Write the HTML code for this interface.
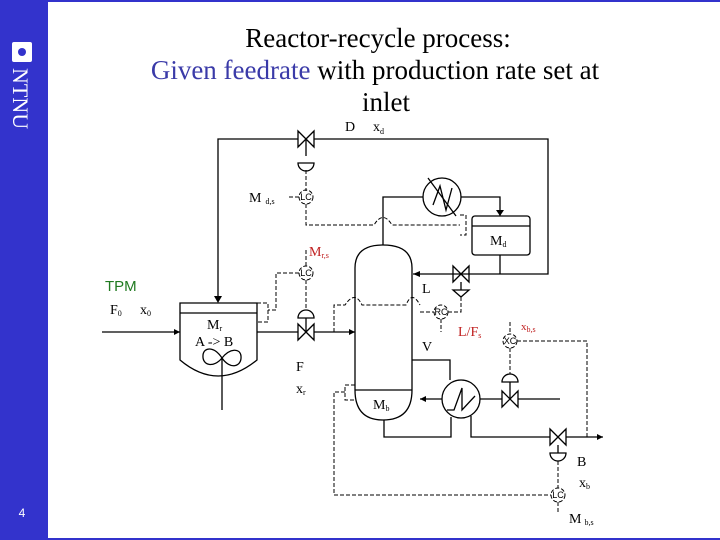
<!DOCTYPE html>
<html><head><meta charset="utf-8"><style>
html,body{margin:0;padding:0;background:#fff}
body{width:720px;height:540px;position:relative;overflow:hidden}
svg{position:absolute;left:0;top:0}
</style></head><body>
<svg width="720" height="540" viewBox="0 0 720 540" xmlns="http://www.w3.org/2000/svg" font-family="Liberation Serif, serif">
<rect x="0" y="0" width="720" height="540" fill="#fff"/>
<rect x="0" y="0" width="48" height="540" fill="#3333cc"/>
<rect x="0" y="0" width="720" height="2" fill="#3333cc"/>
<rect x="0" y="538" width="720" height="2" fill="#3333cc"/>
<rect x="12" y="42" width="20" height="20" rx="2" fill="#fff"/>
<circle cx="22" cy="52" r="4" fill="#3333cc"/>
<text transform="translate(13,68) rotate(90)" font-size="22" fill="#fff" font-family="Liberation Serif, serif">NTNU</text>
<text x="22" y="517" font-size="12" fill="#fff" text-anchor="middle" font-family="Liberation Sans, sans-serif">4</text>

<g font-size="27" text-anchor="middle">
<text x="378" y="47">Reactor-recycle process:</text>
<text x="375" y="79"><tspan fill="#3a3aa8">Given feedrate</tspan>  with production rate set at</text>
<text x="386" y="111">inlet</text>
</g>

<g stroke="#000" stroke-width="1.3" fill="none">
<polyline points="218,298 218,139 298,139"/>
<polyline points="314,139 548,139 548,274 413,274"/>
<path d="M298,131 L314,147 L314,131 L298,147 Z"/>
<line x1="306" y1="139" x2="306" y2="156"/>
<path d="M298,163 A8,8 0 0 0 314,163 Z"/>
<path d="M180,303 H257 V360 Q218,392 180,360 Z"/>
<line x1="180" y1="313" x2="257" y2="313"/>
<path d="M222,358 C214,346 204,347 203,355 C202,366 214,368 222,358 C230,348 240,348 241,356 C242,367 230,370 222,358 Z"/>
<line x1="222" y1="358" x2="222" y2="410"/>
<line x1="102" y1="332" x2="180" y2="332"/>
<line x1="257" y1="332" x2="298" y2="332"/>
<path d="M298,324 L314,340 L314,324 L298,340 Z"/>
<line x1="314" y1="332" x2="355" y2="332"/>
<line x1="306" y1="318" x2="306" y2="332"/>
<path d="M298,318 A8,8 0 0 1 314,318 Z"/>
<path d="M355,390 V268 Q355,245 383,245 Q412,245 412,268 V390 Q412,420 383,420 Q355,420 355,390 Z"/>
<line x1="355" y1="390" x2="412" y2="390"/>
<polyline points="383,245 383,197 423,197"/>
<circle cx="442" cy="197" r="19"/>
<path d="M433,205 L440,186 L446,210 L452,188"/>
<line x1="428" y1="178" x2="456" y2="216"/>
<polyline points="461,197 500,197 500,216"/>
<rect x="472" y="216" width="58" height="39" rx="3"/>
<line x1="472" y1="226" x2="530" y2="226"/>
<line x1="500" y1="255" x2="500" y2="274"/>
<path d="M453,266 L469,282 L469,266 L453,282 Z"/>
<path d="M453,290 H469 L461,297 Z"/>
<line x1="461" y1="282" x2="461" y2="290"/>
<polyline points="412,360 450,360 450,380"/>
<circle cx="461" cy="399" r="19"/>
<path d="M447,410 L454,410 L462,388 L462,410 L475,396"/>
<line x1="420" y1="399" x2="442" y2="399"/>
<line x1="480" y1="399" x2="502" y2="399"/>
<path d="M502,391 L518,407 L518,391 L502,407 Z"/>
<line x1="518" y1="399" x2="560" y2="399"/>
<line x1="510" y1="382" x2="510" y2="399"/>
<path d="M502,382 A8,8 0 0 1 518,382 Z"/>
<polyline points="384,420 384,437 451,437 451,417"/>
<polyline points="471,416 471,437 550,437"/>
<path d="M550,429 L566,445 L566,429 L550,445 Z"/>
<line x1="566" y1="437" x2="603" y2="437"/>
<line x1="558" y1="445" x2="558" y2="453"/>
<path d="M550,453 H566 A8,8 0 0 1 550,453 Z"/>
</g>
<g fill="#000">
<path d="M214,296 L222,296 L218,303 Z"/>
<path d="M174,329 L180,332 L174,335 Z"/>
<path d="M349,329 L355,332 L349,335 Z"/>
<path d="M496,210 L504,210 L500,216 Z"/>
<path d="M413,274 L420,271 L420,277 Z"/>
<path d="M420,399 L426,396 L426,402 Z"/>
<path d="M603,437 L597,434 L597,440 Z"/>
</g>
<g stroke="#000" stroke-width="1" fill="none" stroke-dasharray="4,2">
<line x1="306" y1="170" x2="306" y2="191"/>
<circle cx="306" cy="197" r="7"/>
<line x1="289" y1="197" x2="299" y2="197"/>
<path d="M306,204 V225 H374 Q383,210 392,225 H460"/>
<path d="M460,215 H466 V235 H460"/>
<line x1="306" y1="250" x2="306" y2="266"/>
<circle cx="306" cy="273" r="7"/>
<polyline points="299,273 276,273 276,310 268,310"/>
<path d="M257,303 H268 V322 H257"/>
<line x1="306" y1="280" x2="306" y2="310"/>
<path d="M334,332 V305 H345 Q355,290 362,305 H406 Q412,290 420,305"/>
<path d="M420,312 H434"/>
<circle cx="441" cy="312" r="7"/>
<line x1="441" y1="319" x2="441" y2="332"/>
<polyline points="448,312 461,312 461,297"/>
<line x1="510" y1="322" x2="510" y2="333"/>
<circle cx="510" cy="341" r="7"/>
<line x1="510" y1="348" x2="510" y2="374"/>
<polyline points="517,341 587,341 587,437"/>
<path d="M355,385 H345 V400 H355"/>
<polyline points="345,392 334,392 334,495 551,495"/>
<line x1="558" y1="461" x2="558" y2="488"/>
<circle cx="558" cy="495" r="7"/>
<line x1="558" y1="502" x2="558" y2="512"/>
</g>
<g font-size="9" text-anchor="middle" font-family="Liberation Sans, sans-serif">
<text x="306" y="200">LC</text><text x="306" y="276">LC</text>
<text x="441" y="315">RC</text><text x="510" y="344">XC</text><text x="558" y="498">LC</text>
</g>
<g font-size="14">
<text x="345" y="131">D</text><text x="373" y="131">x<tspan font-size="8" dy="3">d</tspan></text>
<text x="249" y="202">M<tspan font-size="8" dx="4" dy="2">d,s</tspan></text>
<text x="309" y="256" fill="#c02020">M<tspan font-size="8" dy="2">r,s</tspan></text>
<text x="490" y="245">M<tspan font-size="8" dy="2">d</tspan></text>
<text x="422" y="293">L</text>
<text x="458" y="336" fill="#c02020">L/F<tspan font-size="8" dy="2">s</tspan></text>
<text x="521" y="330" fill="#c02020" font-size="11">x<tspan font-size="8" dy="2">b,s</tspan></text>
<text x="422" y="351">V</text>
<text x="373" y="409">M<tspan font-size="8" dy="2">b</tspan></text>
<text x="207" y="329">M<tspan font-size="8" dy="2">r</tspan></text>
<text x="195" y="346">A -&gt; B</text>
<text x="296" y="371">F</text><text x="296" y="393">x<tspan font-size="8" dy="2">r</tspan></text>
<text x="110" y="314">F<tspan font-size="8" dy="2">0</tspan></text>
<text x="140" y="314">x<tspan font-size="8" dy="2">0</tspan></text>
<text x="577" y="466">B</text>
<text x="579" y="487">x<tspan font-size="8" dy="2">b</tspan></text>
<text x="569" y="523">M<tspan font-size="8" dx="3" dy="2">b,s</tspan></text>
</g>
<text x="105" y="291" font-size="15" fill="#207a20" font-family="Liberation Sans, sans-serif">TPM</text>
</svg>
</body></html>
